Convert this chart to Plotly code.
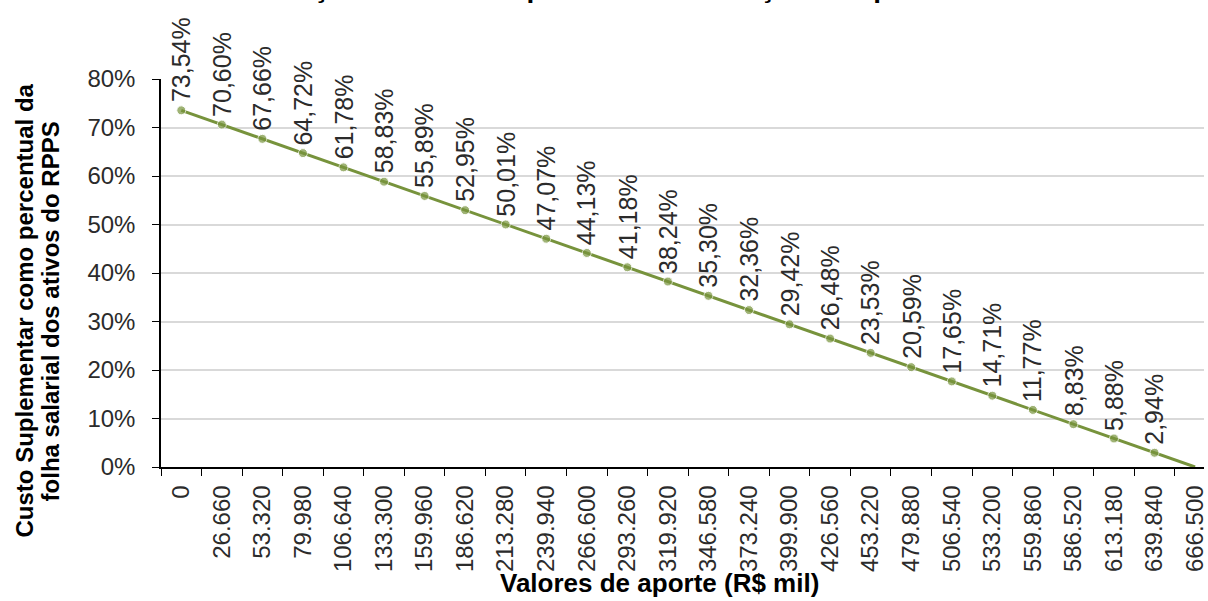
import plotly.graph_objects as go

categories = ["0", "26.660", "53.320", "79.980", "106.640", "133.300", "159.960",
              "186.620", "213.280", "239.940", "266.600", "293.260", "319.920",
              "346.580", "373.240", "399.900", "426.560", "453.220", "479.880",
              "506.540", "533.200", "559.860", "586.520", "613.180", "639.840",
              "666.500"]
custo_pct = [73.54, 70.60, 67.66, 64.72, 61.78, 58.83, 55.89, 52.95, 50.01,
             47.07, 44.13, 41.18, 38.24, 35.30, 32.36, 29.42, 26.48, 23.53,
             20.59, 17.65, 14.71, 11.77, 8.83, 5.88, 2.94, 0.00]
y_ticks = [0, 10, 20, 30, 40, 50, 60, 70, 80]
y_ticktext = [f"{t}%" for t in y_ticks]

title_text = "Evolução do custo suplementar em função do aporte"
x_title = "Valores de aporte (R$ mil)"
y_title_lines = ["Custo Suplementar como percentual da",
                 "folha salarial dos ativos do RPPS"]

FONT = "Liberation Sans, Arial, sans-serif"
GREEN = "#77933C"
TXT = "#2b2b2b"

W, H = 1208, 601
ML, MT, MB = 161, 79, 134
PW, PH = W - ML, H - MT - MB


def px_x(px):
    return (px - ML) / PW


def px_y(py):
    return (H - MB - py) / PH


fig = go.Figure()
fig.add_trace(go.Scatter(
    x=categories, y=custo_pct, mode="lines+markers",
    line=dict(color=GREEN, width=3),
    marker=dict(color=GREEN, size=[9 if v > 0 else 0 for v in custo_pct]),
    hoverinfo="skip", showlegend=False,
))

for i, v in enumerate(custo_pct):
    if v <= 0:
        continue
    fig.add_annotation(
        x=i, y=v, xref="x", yref="y",
        text=f"{v:.2f}".replace(".", ",") + "%",
        textangle=-90, showarrow=False,
        xanchor="center", yanchor="bottom", yshift=6,
        font=dict(family=FONT, size=25, color=TXT),
    )

# title (mostly cut off at the top, like the reference)
fig.add_annotation(
    x=px_x(592), y=px_y(5), xref="paper", yref="paper",
    text=f"<b>{title_text}</b>", showarrow=False,
    xanchor="center", yanchor="bottom",
    font=dict(family=FONT, size=28, color="#000000"),
)
# axis titles
fig.add_annotation(
    x=px_x(661), y=px_y(566), xref="paper", yref="paper",
    text=f"<b>{x_title}</b>", showarrow=False,
    xanchor="center", yanchor="top",
    font=dict(family=FONT, size=26, color="#000000"),
)
for line, xc in zip(y_title_lines, [23, 50]):
    fig.add_annotation(
        x=px_x(xc), y=px_y(311), xref="paper", yref="paper",
        text=f"<b>{line}</b>", showarrow=False, textangle=-90,
        xanchor="center", yanchor="middle",
        font=dict(family=FONT, size=24, color="#000000"),
    )

fig.update_layout(
    width=W, height=H,
    margin=dict(l=ML, r=0, t=MT, b=MB, pad=0),
    paper_bgcolor="white", plot_bgcolor="white",
    xaxis=dict(
        type="category", range=[-0.5, 25.22], tickson="boundaries",
        tickangle=-90, ticks="outside", ticklen=7, tickcolor="#000000",
        showline=True, linecolor="#000000", linewidth=1.5, showgrid=False,
        tickfont=dict(family=FONT, size=24, color=TXT), ticklabelstandoff=7,
    ),
    yaxis=dict(
        range=[0, 80], tickmode="array", tickvals=y_ticks, ticktext=y_ticktext,
        ticks="outside", ticklen=7, tickcolor="#000000",
        showline=True, linecolor="#000000", linewidth=1.5,
        showgrid=True, gridcolor="#D9D9D9", gridwidth=1.5, zeroline=False,
        tickfont=dict(family=FONT, size=24, color=TXT), ticklabelstandoff=12,
    ),
)

fig.write_html("out.html",
               config={"displayModeBar": False},
               post_script="document.body.style.margin='0';"
                           "document.body.style.overflow='hidden';")
